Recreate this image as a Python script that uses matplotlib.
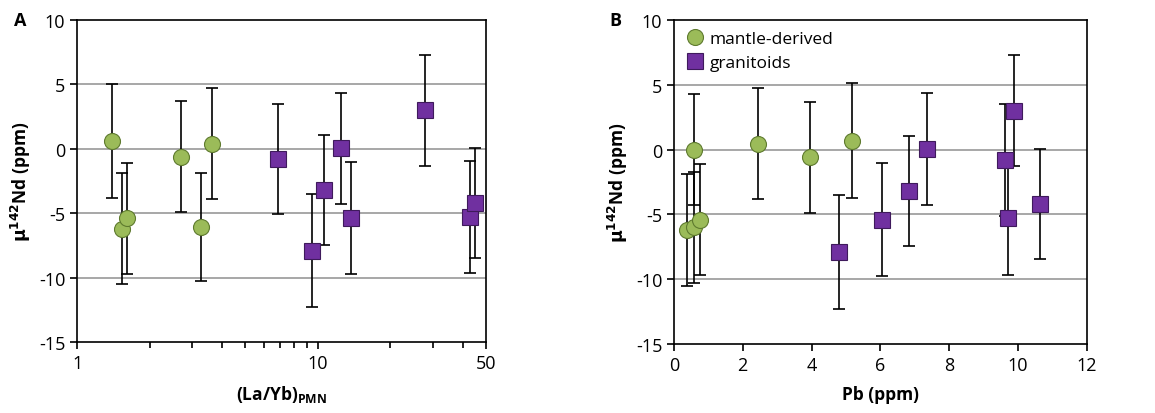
import numpy as np
import matplotlib.pyplot as plt
from matplotlib.ticker import FixedLocator, NullFormatter

plt.rcParams['font.family'] = ['Open Sans', 'DejaVu Sans']
plt.rcParams['axes.unicode_minus'] = False

# panel A: (La/Yb)PMN vs mu142Nd
laYb_mantle = [1.40, 1.54, 1.61, 2.70, 3.27, 3.65]
nd_mantle_A = [0.6, -6.2, -5.4, -0.6, -6.1, 0.4]
err_mantle_A = [4.4, 4.3, 4.3, 4.3, 4.2, 4.3]

laYb_gran = [6.86, 9.50, 10.6, 12.5, 13.7, 27.9, 42.9, 45.0]
nd_gran = [-0.8, -7.9, -3.2, 0.05, -5.4, 3.0, -5.3, -4.2]
err_gran = [4.3, 4.4, 4.25, 4.3, 4.35, 4.3, 4.35, 4.25]

# panel B: Pb vs mu142Nd
pb_mantle = [0.37, 0.58, 0.58, 0.76, 2.45, 3.97, 5.18]
nd_mantle_B = [-6.2, 0.0, -6.0, -5.4, 0.45, -0.6, 0.7]
err_mantle_B = [4.3, 4.3, 4.3, 4.3, 4.3, 4.3, 4.4]

pb_gran = [4.81, 6.06, 6.83, 7.36, 9.63, 9.72, 9.89, 10.64]
nd_gran_B = [-7.9, -5.4, -3.2, 0.05, -0.8, -5.3, 3.0, -4.2]
err_gran_B = [4.4, 4.35, 4.25, 4.3, 4.3, 4.35, 4.3, 4.25]

green = '#9BBB59'
green_edge = '#5E7A2E'
purple = '#7030A0'
purple_edge = '#3F1A5C'

fig = plt.figure(figsize=(11.55, 4.14), dpi=100)
axA = fig.add_axes([0.0667, 0.1715, 0.3541, 0.7778])
axB = fig.add_axes([0.5835, 0.1667, 0.3573, 0.7826])

ekw = dict(fmt='none', ecolor='black', elinewidth=1.2, capsize=4, capthick=1.2, zorder=2)


def draw(ax, xm, ym, em, xg, yg, eg):
    ax.errorbar(xm, ym, yerr=em, **ekw)
    ax.errorbar(xg, yg, yerr=eg, **ekw)
    ax.plot(xm, ym, 'o', ms=11.5, mfc=green, mec=green_edge, mew=0.8, ls='none',
            zorder=3, label='mantle-derived')
    ax.plot(xg, yg, 's', ms=11, mfc=purple, mec=purple_edge, mew=0.8, ls='none',
            zorder=3, label='granitoids')
    ax.set_ylim(-15, 10)
    ax.set_yticks([-15, -10, -5, 0, 5, 10])
    for g in [-10, -5, 0, 5]:
        ax.axhline(g, color='#a0a0a0', lw=1.3, zorder=1)
    for s in ax.spines.values():
        s.set_linewidth(1.2)
    ax.tick_params(axis='both', which='both', direction='out', width=1.2, labelsize=13)
    ax.tick_params(which='major', length=5)
    ax.tick_params(which='minor', length=4)
    ax.set_ylabel(r'$\mathbf{\mu}$$^{\mathbf{142}}$Nd (ppm)', fontsize=12.5, fontweight='bold', labelpad=4)


draw(axA, laYb_mantle, nd_mantle_A, err_mantle_A, laYb_gran, nd_gran, err_gran)
axA.set_xscale('log')
axA.set_xlim(1, 50)
axA.xaxis.set_major_locator(FixedLocator([1, 10, 50]))
axA.set_xticklabels(['1', '10', '50'])
axA.xaxis.set_minor_locator(FixedLocator([2, 3, 4, 5, 6, 7, 8, 9, 20, 30, 40]))
axA.xaxis.set_minor_formatter(NullFormatter())
axA.set_xlabel(r'(La/Yb)$_{\mathregular{PMN}}$', fontsize=12.5, fontweight='bold', labelpad=8)

draw(axB, pb_mantle, nd_mantle_B, err_mantle_B, pb_gran, nd_gran_B, err_gran_B)
axB.set_xlim(0, 12)
axB.set_xticks(np.arange(0, 13, 2))
axB.set_xlabel('Pb (ppm)', fontsize=12.5, fontweight='bold', labelpad=8)
axB.legend(loc='upper left', frameon=False, fontsize=12.5, handletextpad=0.3,
           borderaxespad=0.25, labelspacing=0.45, handlelength=1.1)

fig.text(0.012, 0.95, 'A', fontsize=13, fontweight='bold', va='center')
fig.text(0.528, 0.95, 'B', fontsize=13, fontweight='bold', va='center')

fig.savefig('out.png', dpi=100)
